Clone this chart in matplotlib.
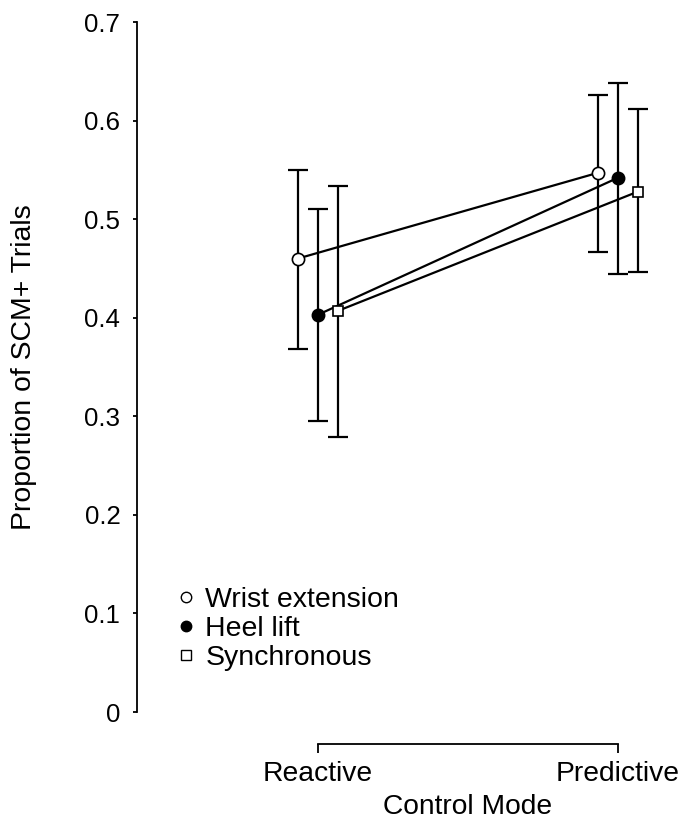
import numpy as np
import matplotlib
matplotlib.use("Agg")
import matplotlib.pyplot as plt

plt.rcParams['font.family'] = ['Liberation Sans', 'DejaVu Sans']

# Data
modes = ["Reactive", "Predictive"]
series = ["Wrist extension", "Heel lift", "Synchronous"]
means = {
    "Wrist extension": [0.460, 0.547],
    "Heel lift": [0.403, 0.542],
    "Synchronous": [0.407, 0.528],
}
upper = {
    "Wrist extension": [0.550, 0.626],
    "Heel lift": [0.510, 0.638],
    "Synchronous": [0.534, 0.612],
}
lower = {
    "Wrist extension": [0.368, 0.467],
    "Heel lift": [0.295, 0.444],
    "Synchronous": [0.279, 0.446],
}

offsets = [-0.067, 0.0, 0.067]
markers = ["o", "o", "s"]
faces = ["white", "black", "white"]

W, H = 683, 822
fig = plt.figure(figsize=(W / 100, H / 100), dpi=100)
ax = fig.add_axes([137 / W, 110 / H, 523 / W, 690 / H])

x = np.arange(len(modes))
for name, off, mk, fc in zip(series, offsets, markers, faces):
    m = np.array(means[name])
    yerr = np.vstack([m - np.array(lower[name]), np.array(upper[name]) - m])
    xs = x + off
    ax.errorbar(xs, m, yerr=yerr, fmt="none", ecolor="black", elinewidth=1.6,
                capsize=7, capthick=1.6, zorder=2)
    ax.plot(xs, m, color="black", lw=1.6, zorder=3)
    ms = 8.8 if mk == "o" else 7.8
    ax.plot(xs, m, linestyle="none", marker=mk, markersize=ms,
            markerfacecolor=fc, markeredgecolor="black", markeredgewidth=1.2,
            zorder=4, label=name)

ax.set_xlim(-0.603, 1.14)
ax.set_ylim(0, 0.7)
ax.set_yticks(np.arange(0, 0.71, 0.1))
ax.set_yticklabels(["0", "0.1", "0.2", "0.3", "0.4", "0.5", "0.6", "0.7"])
ax.set_xticks(x)
ax.set_xticklabels(modes)

for s in ["top", "right"]:
    ax.spines[s].set_visible(False)
ax.spines["bottom"].set_position(("outward", 23))
ax.spines["bottom"].set_bounds(0, 1)
ax.spines["left"].set_bounds(0, 0.7)
for s in ["left", "bottom"]:
    ax.spines[s].set_linewidth(1.3)

ax.tick_params(axis="y", direction="out", length=3, width=1.3, pad=9, labelsize=18.6)
ax.tick_params(axis="x", direction="out", length=6.5, width=1.3, pad=6, labelsize=20.3)

ax.set_ylabel("Proportion of SCM+ Trials", fontsize=20.4)
ax.yaxis.set_label_coords(-100 / 523, 0.5)
ax.set_xlabel("Control Mode", fontsize=20.3)
ax.xaxis.set_label_coords((468 - 137) / 523, -82 / 690)

# legend with markers only
handles = []
for name, mk, fc in zip(series, markers, faces):
    ms = 7.5 if mk == "o" else 6.5
    h, = ax.plot([], [], linestyle="none", marker=mk, markersize=ms,
                 markerfacecolor=fc, markeredgecolor="black", markeredgewidth=1.0)
    handles.append(h)
ax.legend(handles, series, loc="upper left",
          bbox_to_anchor=(175 / W, 1 - 587 / H), bbox_transform=fig.transFigure,
          frameon=False, fontsize=20.5, handlelength=0.8, handletextpad=0.27,
          labelspacing=0.1, borderpad=0, borderaxespad=0)

fig.savefig("out.png", dpi=100)
